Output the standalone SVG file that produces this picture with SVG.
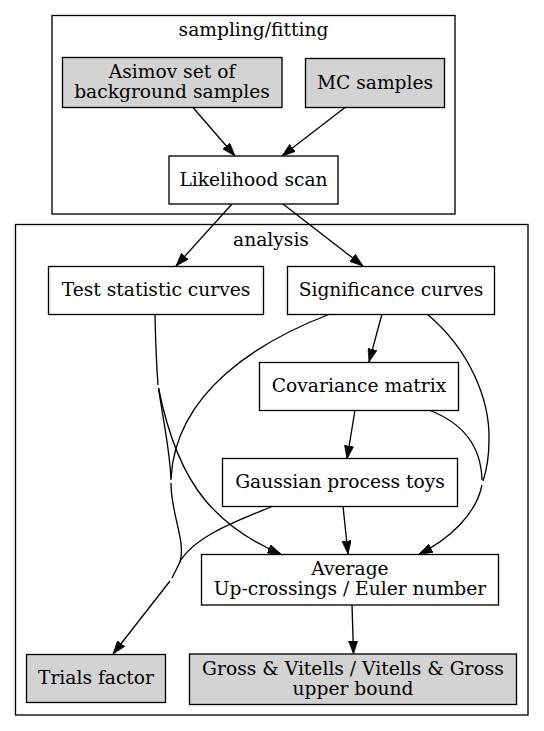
<svg xmlns="http://www.w3.org/2000/svg" width="544" height="731" viewBox="0 0 544 731">
<style>
text{font-family:"DejaVu Serif","Liberation Serif",serif;font-size:18.67px;text-anchor:middle;fill:#000}
.cl{fill:none;stroke:#000;stroke-width:1.33}
.n{fill:#fff;stroke:#000;stroke-width:1.33}
.g{fill:#d3d3d3;stroke:#000;stroke-width:1.33}
.e{fill:none;stroke:#000;stroke-width:1.33}
.a{marker-end:url(#arr)}
</style>
<defs>
<marker id="arr" viewBox="0 0 10 7" markerUnits="userSpaceOnUse" markerWidth="13.33" markerHeight="9.33" refX="10" refY="3.5" orient="auto">
<path d="M0,0 L10,3.5 L0,7 z" fill="#000" stroke="#000" stroke-width="0.5"/>
</marker>
</defs>
<rect width="544" height="731" fill="#fff"/>
<g id="cluster_sampling">
<rect class="cl" x="52" y="15.5" width="403" height="198.5"/>
<text x="253.5" y="36">sampling/fitting</text>
</g>
<g id="cluster_analysis">
<rect class="cl" x="15.5" y="224.5" width="512.5" height="490.5"/>
<text x="271" y="246">analysis</text>
</g>
<g id="edges">
<path class="e a" d="M193,107.5 L235,156"/>
<path class="e a" d="M345,107.5 L282,156"/>
<path class="e a" d="M232,204 L176,266"/>
<path class="e a" d="M283,204 L363,266"/>
<path class="e a" d="M382,314 L369,362"/>
<path class="e a" d="M355,410 L347,459"/>
<path class="e a" d="M343,506 L348,554"/>
<path class="e a" d="M352,605 L353.5,654"/>
<path class="e" d="M155,314 C155.5,340 156.5,365 158,385"/>
<path class="e a" d="M158.5,388 C166,425 180,470 205,500 C225,524 252,542 281,554"/>
<path class="e" d="M158.5,388 C163,420 170,450 171,480"/>
<path class="e" d="M330,314 C262,340 176,390 171,478"/>
<path class="e" d="M171,483 C171,515 186,540 180,562 L172,578"/>
<path class="e" d="M273,506 C240,520 195,535 179,563"/>
<path class="e a" d="M170,581 L113,654"/>
<path class="e" d="M427,314 C470,350 490,400 489,440 C489,460 486,472 483,481"/>
<path class="e" d="M429,410 C455,420 481,440 482,480"/>
<path class="e a" d="M482,485 C476,515 448,540 419,554"/>
</g>
<g id="asimov">
<rect class="g" x="62.5" y="57.5" width="219.5" height="50"/>
<text x="172" y="77.5">Asimov set of</text>
<text x="172" y="97.5">background samples</text>
</g>
<g id="mc">
<rect class="g" x="305.5" y="58.5" width="139" height="49"/>
<text x="375" y="88.5">MC samples</text>
</g>
<g id="likelihood">
<rect class="n" x="169" y="156" width="169" height="48"/>
<text x="253.5" y="185.5">Likelihood scan</text>
</g>
<g id="test">
<rect class="n" x="48.5" y="266.5" width="215" height="48"/>
<text x="156" y="295.5">Test statistic curves</text>
</g>
<g id="significance">
<rect class="n" x="287.5" y="266.5" width="207" height="48"/>
<text x="391" y="295.5">Significance curves</text>
</g>
<g id="covariance">
<rect class="n" x="259.5" y="362.5" width="199" height="48"/>
<text x="359" y="391.5">Covariance matrix</text>
</g>
<g id="gaussian">
<rect class="n" x="222.5" y="458.5" width="235" height="48"/>
<text x="340" y="487.5">Gaussian process toys</text>
</g>
<g id="average">
<rect class="n" x="201.5" y="554.5" width="297" height="50.5"/>
<text x="350" y="575">Average</text>
<text x="350" y="595">Up-crossings / Euler number</text>
</g>
<g id="trials">
<rect class="g" x="26.5" y="654.5" width="139" height="48"/>
<text x="96" y="683.5">Trials factor</text>
</g>
<g id="gross">
<rect class="g" x="189.5" y="654" width="327" height="50.5"/>
<text x="353" y="674.5">Gross &amp; Vitells / Vitells &amp; Gross</text>
<text x="353" y="694.5">upper bound</text>
</g>
</svg>
